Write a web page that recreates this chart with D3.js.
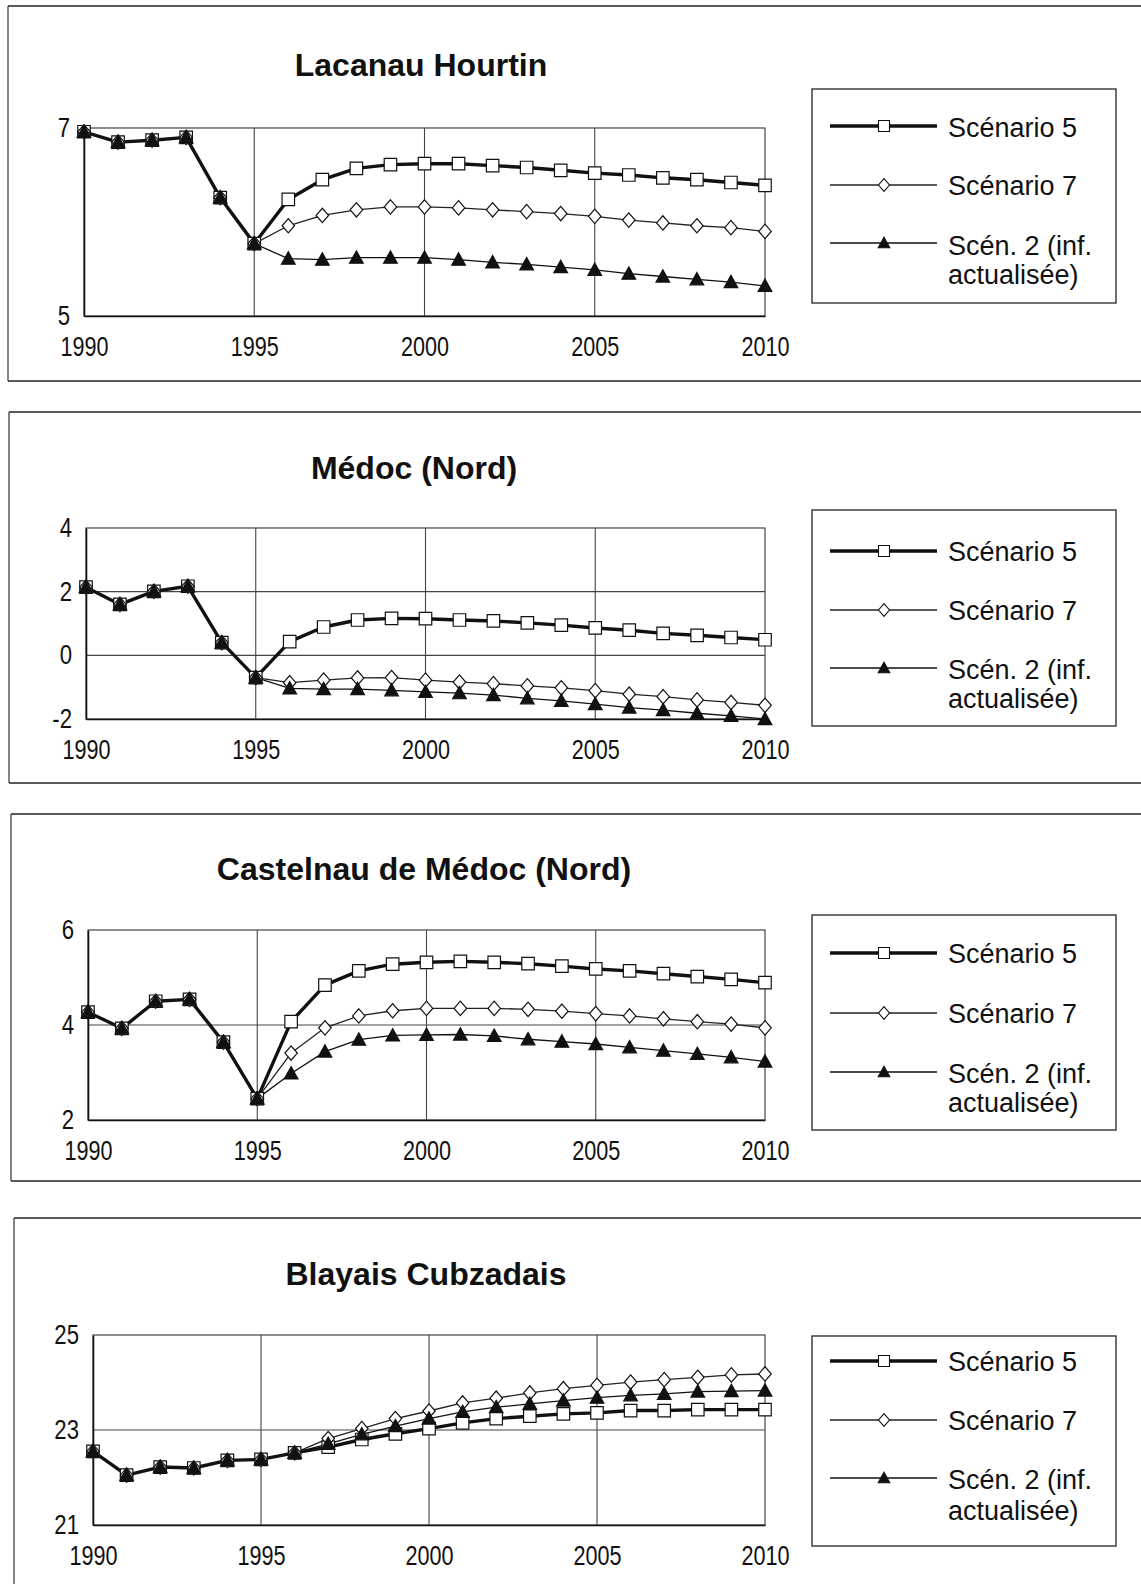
<!DOCTYPE html>
<html>
<head>
<meta charset="utf-8">
<script src="https://cdn.jsdelivr.net/npm/d3@7"></script>
<style>
  body { margin: 0; background: #fff; }
  svg { display: block; }
  text { font-family: "Liberation Sans", Arial, sans-serif; fill: #111; }
</style>
</head>
<body>
<svg id="chart" width="1141" height="1584"></svg>
<script>
// ---- data -------------------------------------------------------------
const years = [1990, 1991, 1992, 1993, 1994, 1995, 1996, 1997, 1998, 1999, 2000,
               2001, 2002, 2003, 2004, 2005, 2006, 2007, 2008, 2009, 2010];
const xTickYears = [1990, 1995, 2000, 2005, 2010];
const legendLabels = [["Scénario 5"], ["Scénario 7"], ["Scén. 2 (inf.", "actualisée)"]];

const titles = ["Lacanau Hourtin", "Médoc (Nord)", "Castelnau de Médoc (Nord)", "Blayais Cubzadais"];

const yTicksLacanau = [5, 7];
const yTicksMedoc = [-2, 0, 2, 4];
const yTicksCastelnau = [2, 4, 6];
const yTicksBlayais = [21, 23, 25];

const lacanauS5 = [6.96, 6.85, 6.87, 6.90, 6.26, 5.77, 6.24, 6.45, 6.57, 6.61, 6.62,
                   6.62, 6.60, 6.58, 6.55, 6.52, 6.50, 6.47, 6.45, 6.42, 6.39];
const lacanauS7 = [6.96, 6.85, 6.87, 6.90, 6.26, 5.77, 5.96, 6.07, 6.13, 6.16, 6.16,
                   6.15, 6.13, 6.11, 6.09, 6.06, 6.02, 5.99, 5.96, 5.94, 5.90];
const lacanauS2 = [6.96, 6.85, 6.87, 6.90, 6.26, 5.77, 5.61, 5.60, 5.62, 5.62, 5.62,
                   5.60, 5.57, 5.55, 5.52, 5.49, 5.45, 5.42, 5.39, 5.36, 5.32];

const medocS5 = [2.14, 1.60, 2.01, 2.17, 0.40, -0.70, 0.43, 0.89, 1.11, 1.16, 1.15,
                 1.11, 1.08, 1.02, 0.95, 0.86, 0.79, 0.69, 0.63, 0.56, 0.49];
const medocS7 = [2.14, 1.60, 2.01, 2.17, 0.40, -0.70, -0.86, -0.78, -0.71, -0.70, -0.78,
                 -0.84, -0.89, -0.96, -1.02, -1.11, -1.22, -1.30, -1.40, -1.48, -1.57];
const medocS2 = [2.14, 1.60, 2.01, 2.17, 0.40, -0.70, -1.04, -1.06, -1.06, -1.10, -1.15,
                 -1.19, -1.25, -1.35, -1.43, -1.53, -1.64, -1.72, -1.82, -1.90, -2.00];

const castelnauS5 = [4.27, 3.93, 4.50, 4.54, 3.64, 2.45, 4.07, 4.84, 5.14, 5.28, 5.32,
                     5.34, 5.32, 5.29, 5.24, 5.18, 5.14, 5.08, 5.02, 4.96, 4.89];
const castelnauS7 = [4.27, 3.93, 4.50, 4.54, 3.64, 2.45, 3.41, 3.94, 4.19, 4.30, 4.35,
                     4.35, 4.35, 4.33, 4.29, 4.24, 4.19, 4.13, 4.07, 4.02, 3.94];
const castelnauS2 = [4.27, 3.93, 4.50, 4.54, 3.64, 2.45, 2.98, 3.44, 3.69, 3.78, 3.79,
                     3.80, 3.77, 3.70, 3.65, 3.60, 3.53, 3.46, 3.39, 3.32, 3.23];

const blayaisS5 = [22.55, 22.05, 22.22, 22.20, 22.36, 22.38, 22.52, 22.64, 22.80, 22.92, 23.03,
                   23.15, 23.24, 23.29, 23.34, 23.36, 23.41, 23.41, 23.43, 23.43, 23.43];
const blayaisS7 = [22.55, 22.05, 22.22, 22.20, 22.36, 22.38, 22.52, 22.82, 23.03, 23.24, 23.40,
                   23.57, 23.67, 23.78, 23.87, 23.94, 24.01, 24.06, 24.11, 24.16, 24.18];
const blayaisS2 = [22.55, 22.05, 22.22, 22.20, 22.36, 22.38, 22.52, 22.71, 22.91, 23.08, 23.24,
                   23.38, 23.48, 23.55, 23.62, 23.68, 23.73, 23.76, 23.81, 23.82, 23.83];

// ---- layout of the four panels ----------------------------------------
const panelLayout = [
  { box: { top: 6, bottom: 381, left: 8 }, plot: { l: 84, r: 765, t: 128, b: 316 },
    title: { x: 421, y: 76 }, legend: { top: 89, bottom: 303, rows: [126, 185, 243], text: [127, 185, 245, 274] } },
  { box: { top: 412, bottom: 783, left: 9 }, plot: { l: 86, r: 765, t: 528, b: 719 },
    title: { x: 414, y: 479 }, legend: { top: 510, bottom: 726, rows: [551, 610, 668], text: [551, 610, 669, 698] } },
  { box: { top: 814, bottom: 1181, left: 11 }, plot: { l: 88, r: 765, t: 930, b: 1120 },
    title: { x: 424, y: 880 }, legend: { top: 915, bottom: 1130, rows: [953, 1013, 1072], text: [953, 1013, 1073, 1102] } },
  { box: { top: 1218, bottom: null, left: 14 }, plot: { l: 93, r: 765, t: 1335, b: 1525 },
    title: { x: 426, y: 1285 }, legend: { top: 1336, bottom: 1546, rows: [1361, 1420, 1478], text: [1361, 1420, 1479, 1510] } }
];

const panelData = [
  { title: titles[0], yTicks: yTicksLacanau, series: [lacanauS5, lacanauS7, lacanauS2] },
  { title: titles[1], yTicks: yTicksMedoc, series: [medocS5, medocS7, medocS2] },
  { title: titles[2], yTicks: yTicksCastelnau, series: [castelnauS5, castelnauS7, castelnauS2] },
  { title: titles[3], yTicks: yTicksBlayais, series: [blayaisS5, blayaisS7, blayaisS2] }
];

// ---- series styles ------------------------------------------------------
const seriesStyle = [
  { stroke: "#111", width: 3.4, marker: "square" },
  { stroke: "#222", width: 1.3, marker: "diamond" },
  { stroke: "#111", width: 1.3, marker: "triangle" }
];

function markerPath(kind, s) {
  // s = nominal marker size in px
  const h = s / 2;
  if (kind === "square") return `M${-h},${-h}H${h}V${h}H${-h}Z`;
  if (kind === "diamond") return `M0,${-h * 1.15}L${h},0L0,${h * 1.15}L${-h},0Z`;
  return `M0,${-h * 1.05}L${h * 1.05},${h * 0.85}L${-h * 1.05},${h * 0.85}Z`;
}
function markerFill(kind) { return kind === "triangle" ? "#111" : "#fff"; }

const svg = d3.select("#chart");
const W = 1141;

// condense tick labels horizontally, keeping them as real text
function narrowText(sel, factor) {
  sel.each(function () {
    const len = this.getComputedTextLength();
    d3.select(this).attr("textLength", len * factor).attr("lengthAdjust", "spacingAndGlyphs");
  });
}

panelData.forEach((pd, i) => {
  const L = panelLayout[i];
  const g = svg.append("g");

  // outer frame (open on the right)
  const bx = L.box;
  g.append("line").attr("x1", bx.left).attr("x2", W).attr("y1", bx.top).attr("y2", bx.top)
    .attr("stroke", "#222").attr("stroke-width", 1.5);
  if (bx.bottom !== null) {
    g.append("line").attr("x1", bx.left).attr("x2", W).attr("y1", bx.bottom).attr("y2", bx.bottom)
      .attr("stroke", "#222").attr("stroke-width", 1.5);
  }
  g.append("line").attr("x1", bx.left).attr("x2", bx.left).attr("y1", bx.top)
    .attr("y2", bx.bottom === null ? 1584 : bx.bottom)
    .attr("stroke", "#333").attr("stroke-width", 1.2);

  // title
  g.append("text").attr("x", L.title.x).attr("y", L.title.y)
    .attr("text-anchor", "middle").attr("font-size", 32).attr("font-weight", "bold")
    .text(pd.title);

  // scales
  const P = L.plot;
  const x = d3.scaleLinear().domain([1990, 2010]).range([P.l, P.r]);
  const yDom = d3.extent(pd.yTicks);
  const y = d3.scaleLinear().domain(yDom).range([P.b, P.t]);

  // plot frame
  g.append("rect").attr("x", P.l).attr("y", P.t).attr("width", P.r - P.l).attr("height", P.b - P.t)
    .attr("fill", "none").attr("stroke", "#333").attr("stroke-width", 1.1);

  // grid lines
  g.append("g").selectAll("line").data(xTickYears.filter(v => v !== 1990 && v !== 2010)).join("line")
    .attr("x1", d => x(d)).attr("x2", d => x(d)).attr("y1", P.t).attr("y2", P.b)
    .attr("stroke", "#444").attr("stroke-width", 1.1);
  g.append("g").selectAll("line").data(pd.yTicks.filter(v => v !== yDom[0] && v !== yDom[1])).join("line")
    .attr("x1", P.l).attr("x2", P.r).attr("y1", d => y(d)).attr("y2", d => y(d))
    .attr("stroke", "#444").attr("stroke-width", 1.1);

  // axes
  const xAxis = g.append("g").attr("transform", `translate(0,${P.b})`)
    .call(d3.axisBottom(x).tickValues(xTickYears).tickFormat(d => String(d)).tickSize(0).tickPadding(21));
  const yAxis = g.append("g").attr("transform", `translate(${P.l},0)`)
    .call(d3.axisLeft(y).tickValues(pd.yTicks).tickFormat(d => String(d)).tickSize(0).tickPadding(14));
  [xAxis, yAxis].forEach(a => {
    a.select(".domain").attr("stroke", "#111").attr("stroke-width", 1.6);
    a.selectAll("text").attr("font-size", 27).attr("fill", "#111")
      .attr("font-family", "'Liberation Sans', Arial, sans-serif");
  });
  xAxis.selectAll("text").call(narrowText, 0.8);
  yAxis.selectAll("text").call(narrowText, 0.82);

  // series lines and markers
  const line = d3.line().x((d, k) => x(years[k])).y(d => y(d));
  pd.series.forEach((vals, s) => {
    const st = seriesStyle[s];
    g.append("path").datum(vals).attr("d", line)
      .attr("fill", "none").attr("stroke", st.stroke).attr("stroke-width", st.width)
      .attr("stroke-linejoin", "round");
  });
  pd.series.forEach((vals, s) => {
    const st = seriesStyle[s];
    g.append("g").selectAll("path").data(vals).join("path")
      .attr("transform", (d, k) => `translate(${x(years[k])},${y(d)})`)
      .attr("d", markerPath(st.marker, st.marker === "triangle" ? 13 : 12.5))
      .attr("fill", markerFill(st.marker)).attr("stroke", "#111").attr("stroke-width", 1.2);
  });

  // legend
  const lg = L.legend;
  g.append("rect").attr("x", 812).attr("y", lg.top).attr("width", 1116 - 812).attr("height", lg.bottom - lg.top)
    .attr("fill", "none").attr("stroke", "#222").attr("stroke-width", 1.3);
  seriesStyle.forEach((st, s) => {
    const ry = lg.rows[s];
    g.append("line").attr("x1", 830).attr("x2", 937).attr("y1", ry).attr("y2", ry)
      .attr("stroke", st.stroke).attr("stroke-width", st.width);
    g.append("path").attr("transform", `translate(884,${ry})`)
      .attr("d", markerPath(st.marker, 11))
      .attr("fill", markerFill(st.marker)).attr("stroke", "#111").attr("stroke-width", 1.1);
  });
  const textRows = legendLabels.flat();
  textRows.forEach((t, k) => {
    g.append("text").attr("x", 948).attr("y", lg.text[k] + 9.5)
      .attr("font-size", 27).text(t);
  });
});
</script>
</body>
</html>
